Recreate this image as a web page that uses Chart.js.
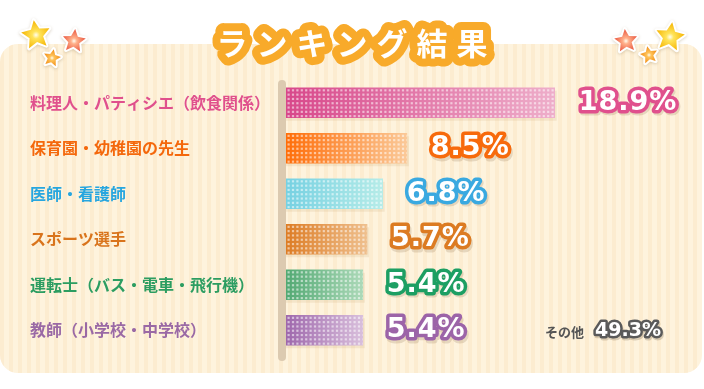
<!DOCTYPE html>
<html lang="ja">
<head>
<meta charset="utf-8">
<title>ランキング結果</title>
<script src="https://cdn.jsdelivr.net/npm/chart.js@4/dist/chart.umd.min.js"></script>
<style>
  html, body { margin: 0; padding: 0; background: #fff; }
  #wrap { width: 704px; height: 389px; }
</style>
</head>
<body>
<div id="wrap"><canvas id="ranking" width="704" height="389"></canvas></div>
<script>
const titleText = "ランキング結果";
const categories = [
    "料理人・パティシエ（飲食関係）",
    "保育園・幼稚園の先生",
    "医師・看護師",
    "スポーツ選手",
    "運転士（バス・電車・飛行機）",
    "教師（小学校・中学校）"
];
const shares = [18.9, 8.5, 6.8, 5.7, 5.4, 5.4];
const otherLabel = "その他";
const otherShare = 49.3;

// colours per row
const labelColors = ["#e0508d", "#f4680c", "#27a6df", "#d9741c", "#2c9d61", "#9a69a5"];
const strokeColors = ["#e0508d", "#f76a0c", "#3aa9e0", "#dc7b22", "#1d9f63", "#9c64a8"];
const barFrom = ["#d8478a", "#ff6d08", "#76d1e2", "#dd7c24", "#52a973", "#9e67ac"];
const barTo = ["#eeaeca", "#fbc998", "#b6ece8", "#efc08e", "#acd9b8", "#d9bfdc"];

const JP = '"Noto Sans CJK JP", "Noto Sans", sans-serif';
const NUM = '"DejaVu Sans", "Noto Sans", sans-serif';

function star(ctx, cx, cy, r, rot, inner, outer) {
    ctx.save();
    ctx.beginPath();
    for (let i = 0; i < 10; i++) {
        const rr = i % 2 === 0 ? r : r * 0.48;
        const a = -Math.PI / 2 + rot + i * Math.PI / 5;
        const px = cx + Math.cos(a) * rr, py = cy + Math.sin(a) * rr;
        if (i === 0) ctx.moveTo(px, py); else ctx.lineTo(px, py);
    }
    ctx.closePath();
    ctx.lineJoin = "round";
    ctx.shadowColor = "rgba(120, 90, 40, 0.25)";
    ctx.shadowBlur = 3;
    ctx.shadowOffsetY = 1;
    ctx.lineWidth = 4;
    ctx.strokeStyle = "#fff";
    ctx.stroke();
    ctx.shadowColor = "transparent";
    const g = ctx.createRadialGradient(cx, cy, 0, cx, cy, r);
    g.addColorStop(0, "#fffdf0");
    g.addColorStop(0.25, inner);
    g.addColorStop(1, outer);
    ctx.fillStyle = g;
    ctx.fill();
    ctx.restore();
}

const backdrop = {
    id: "backdrop",
    beforeDraw(chart) {
        const ctx = chart.ctx;
        ctx.save();
        ctx.beginPath();
        ctx.roundRect(0, 44, 702, 329, 18);
        ctx.fillStyle = "#fef3dd";
        ctx.fill();
        ctx.clip();
        ctx.fillStyle = "rgba(250, 224, 182, 0.35)";
        for (let x = 0; x < 704; x += 9) ctx.fillRect(x, 44, 4, 329);
        ctx.restore();

        // title
        ctx.save();
        ctx.font = "bold 31px " + JP;
        ctx.letterSpacing = "9px";
        ctx.textBaseline = "middle";
        const w = ctx.measureText(titleText).width - 9;
        const tx = 352 - w / 2;
        ctx.lineJoin = "round";
        ctx.lineWidth = 16;
        ctx.strokeStyle = "#f8aa2a";
        ctx.strokeText(titleText, tx, 43);
        ctx.fillStyle = "#fff";
        ctx.fillText(titleText, tx, 43);
        ctx.restore();

        // stars
        star(ctx, 36, 35, 15, -0.15, "#ffe45a", "#f5b300");
        star(ctx, 74, 41, 12, 0.1, "#ffb08a", "#e9533c");
        star(ctx, 52, 58, 9, 0.2, "#ffc35a", "#f08a12");
        star(ctx, 626, 41, 12, -0.1, "#ffb08a", "#e9533c");
        star(ctx, 670, 37, 15, 0.15, "#ffe45a", "#f5b300");
        star(ctx, 649, 55, 9, -0.2, "#ffc35a", "#f08a12");
    },
    beforeDatasetsDraw(chart) {
        const ctx = chart.ctx;
        const meta = chart.getDatasetMeta(0);
        ctx.save();
        // axis post
        ctx.fillStyle = "#dccab0";
        ctx.beginPath();
        ctx.roundRect(278, 80, 8, 281, 4);
        ctx.fill();
        // soft shadow under each bar
        ctx.fillStyle = "rgba(200, 165, 110, 0.18)";
        meta.data.forEach(el => {
            const p = el.getProps(["x", "y", "base", "height"], true);
            ctx.fillRect(p.base, p.y - p.height / 2 + 3, p.x - p.base + 2, p.height);
        });
        ctx.restore();
        // gradient fill for each bar, from its own start to its own end
        meta.data.forEach((el, i) => {
            const p = el.getProps(["x", "base"], true);
            if (!isFinite(p.x) || !isFinite(p.base)) return;
            const g = ctx.createLinearGradient(p.base, 0, p.x, 0);
            g.addColorStop(0, barFrom[i]);
            g.addColorStop(1, barTo[i]);
            el.options.backgroundColor = g;
        });
    },
    afterDatasetsDraw(chart) {
        const ctx = chart.ctx;
        const meta = chart.getDatasetMeta(0);
        meta.data.forEach((el, i) => {
            const p = el.getProps(["x", "y", "base", "height"], true);
            const top = p.y - p.height / 2;
            // dot grid
            ctx.save();
            ctx.beginPath();
            ctx.rect(p.base, top, p.x - p.base, p.height);
            ctx.clip();
            ctx.fillStyle = "rgba(255, 255, 255, 0.55)";
            for (let dx = p.base + 1.5; dx < p.x; dx += 4.4) {
                for (let dy = top + 1.5; dy < top + p.height; dy += 4.3) {
                    ctx.fillRect(dx, dy, 2.2, 2.2);
                }
            }
            ctx.restore();

            // value label
            const txt = shares[i] + "%";
            const lx = p.x + 24;
            ctx.save();
            ctx.font = "bold 27px " + NUM;
            ctx.letterSpacing = "1px";
            ctx.textBaseline = "middle";
            ctx.lineJoin = "round";
            ctx.lineWidth = 7;
            ctx.strokeStyle = "rgba(120, 90, 50, 0.18)";
            ctx.strokeText(txt, lx + 1.5, p.y + 2.5);
            ctx.strokeStyle = strokeColors[i];
            ctx.strokeText(txt, lx, p.y);
            ctx.fillStyle = "#fff";
            ctx.fillText(txt, lx, p.y);
            ctx.restore();
        });

        // the rest
        ctx.save();
        ctx.textBaseline = "middle";
        ctx.font = "bold 13px " + JP;
        ctx.fillStyle = "#555";
        ctx.fillText(otherLabel, 545, 332);
        const ot = otherShare + "%";
        ctx.font = "bold 19px " + NUM;
        ctx.lineJoin = "round";
        ctx.lineWidth = 5;
        ctx.strokeStyle = "rgba(80, 60, 30, 0.2)";
        ctx.strokeText(ot, 595 + 1, 331 + 2);
        ctx.strokeStyle = "#5a5a5a";
        ctx.strokeText(ot, 595, 331);
        ctx.fillStyle = "#fff";
        ctx.fillText(ot, 595, 331);
        ctx.restore();
    }
};

new Chart(document.getElementById("ranking"), {
    type: "bar",
    data: {
        labels: categories,
        datasets: [{ data: shares, backgroundColor: barFrom, borderWidth: 0, barThickness: 30 }]
    },
    options: {
        indexAxis: "y",
        responsive: false,
        animation: false,
        layout: { padding: { left: 30, top: 80, right: 20, bottom: 36 } },
        scales: {
            x: { display: false, min: 0, max: 28 },
            y: {
                grid: { display: false },
                border: { display: false },
                ticks: {
                    crossAlign: "far",
                    padding: 0,
                    color: c => labelColors[c.index],
                    font: { family: JP, size: 16, weight: "bold" }
                },
                afterFit(scale) { scale.width = 256; }
            }
        },
        plugins: { legend: { display: false }, tooltip: { enabled: false } }
    },
    plugins: [backdrop]
});
</script>
</body>
</html>
